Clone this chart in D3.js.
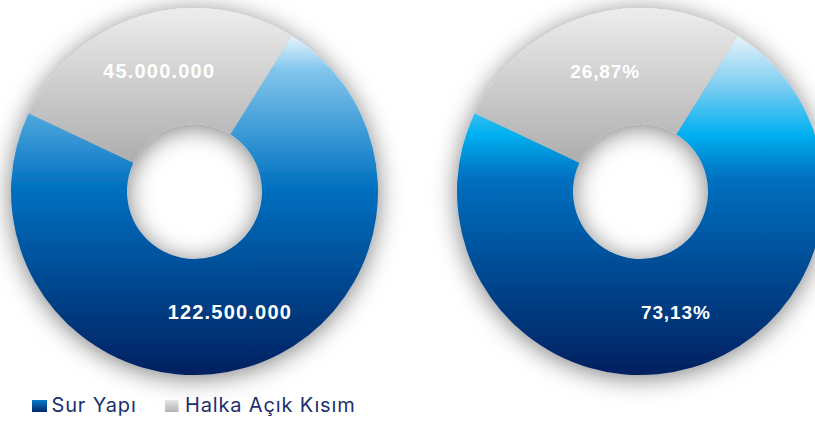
<!doctype html>
<html lang="tr">
<head>
	<meta charset="utf-8">
	<title>Ortaklık Yapısı</title>
	<style>
html, body {
	margin: 0;
	padding: 0;
	width: 100%;
	height: 100%;
	overflow: hidden;
	background: #fff;
	font-family: 'Liberation Sans', Arial, sans-serif;
}
#container {
	position: absolute;
	top: 0;
	left: 0;
	width: 815px;
	height: 421px;
}
svg {
	display: block;
}
.lbl {
	fill: #fff;
	font-weight: bold;
	text-anchor: middle;
}
.legend text {
	fill: #1b2f6e;
	font-family: Inter, 'Liberation Sans', sans-serif;
	font-size: 20px;
	letter-spacing: 0.85px;
}
	</style>
</head>
<body>
	<div id="container"></div>

	<script src="https://cdn.jsdelivr.net/npm/d3@7"></script>
	<script>
/* DATA */

var categories = ['Sur Yapı', 'Halka Açık Kısım'];
var shareValues = [122500000, 45000000];
var labelModes = ['value', 'percent']; // left chart shows amounts, right one shares

(function _donuts(d3) {

	'use strict';

	/* CONST */

	var W = 815;
	var H = 421;
	var R_OUT = 183.5;
	var R_IN = 67.5;
	var START = 32 * Math.PI / 180;
	var CENTERS = [[194.5, 191.5], [640.5, 191.5]];

	var total = d3.sum(shareValues);

	var fmtValue = function (v) {
		return d3.format(',')(v).replace(/,/g, '.');
	};
	var fmtPercent = function (v) {
		return d3.format('.2f')(v / total * 100).replace('.', ',') + '%';
	};

	var svg = d3.select('#container')
		.append('svg')
			.attr('width', W)
			.attr('height', H);

	var defs = svg.append('defs');

	/* GRADIENTS */

	var addGradient = function (id, stops) {
		var g = defs.append('linearGradient')
			.attr('id', id)
			.attr('x1', 0).attr('y1', 0)
			.attr('x2', 0).attr('y2', 1);
		stops.forEach(function (s) {
			g.append('stop')
				.attr('offset', s[0])
				.attr('stop-color', s[1]);
		});
	};

	addGradient('blue0', [[0, '#e6f4fc'], [0.1, '#82c6ec'], [0.28, '#3e9bd7'], [0.45, '#0070c0'], [1, '#002060']]);
	addGradient('blue1', [[0, '#e6f2f9'], [0.15, '#7ccdf2'], [0.29, '#00b0f0'], [0.42, '#0070c0'], [1, '#002060']]);
	addGradient('grey', [[0, '#ededed'], [1, '#adadad']]);
	addGradient('legBlue', [[0, '#0a7ccc'], [1, '#002668']]);
	addGradient('legGrey', [[0, '#e6e6e6'], [1, '#b2b2b2']]);

	var shadow = defs.append('filter')
		.attr('id', 'shadow')
		.attr('x', '-30%').attr('y', '-30%')
		.attr('width', '160%').attr('height', '160%');
	shadow.append('feDropShadow')
		.attr('dx', 0)
		.attr('dy', 3)
		.attr('stdDeviation', 12)
		.attr('flood-color', '#000')
		.attr('flood-opacity', 0.5);

	/* DONUTS */

	var pie = d3.pie()
		.sort(null)
		.startAngle(START)
		.endAngle(START + 2 * Math.PI);

	var arc = d3.arc()
		.innerRadius(R_IN)
		.outerRadius(R_OUT);

	var slices = pie(shareValues);

	CENTERS.forEach(function (c, n) {
		var g = svg.append('g')
			.attr('transform', 'translate(' + c[0] + ',' + c[1] + ')');

		g.append('g')
			.attr('filter', 'url(#shadow)')
			.selectAll('path')
			.data(slices)
			.enter()
			.append('path')
				.attr('d', arc)
				.attr('fill', function (d, i) {
					return i === 0 ? 'url(#blue' + n + ')' : 'url(#grey)';
				});

		g.selectAll('text')
			.data(slices)
			.enter()
			.append('text')
				.attr('class', 'lbl')
				.attr('transform', function (d) {
					return 'translate(' + arc.centroid(d) + ')';
				})
				.attr('dy', '0.36em')
				.style('font-size', n === 0 ? '20px' : '19px')
				.style('letter-spacing', n === 0 ? '1.2px' : '0.9px')
				.text(function (d) {
					return labelModes[n] === 'value' ? fmtValue(d.value) : fmtPercent(d.value);
				});
	});

	/* LEGEND */

	var legendX = [32, 165];
	var legend = svg.append('g').attr('class', 'legend');

	categories.forEach(function (name, i) {
		var item = legend.append('g')
			.attr('transform', 'translate(' + legendX[i] + ',400)');
		item.append('rect')
			.attr('width', i === 0 ? 15 : 13.5)
			.attr('height', 12)
			.attr('fill', i === 0 ? 'url(#legBlue)' : 'url(#legGrey)');
		item.append('text')
			.attr('x', i === 0 ? 19.5 : 20)
			.attr('y', 11.7)
			.text(name);
	});

})(window.d3);
	</script>
</body>
</html>
